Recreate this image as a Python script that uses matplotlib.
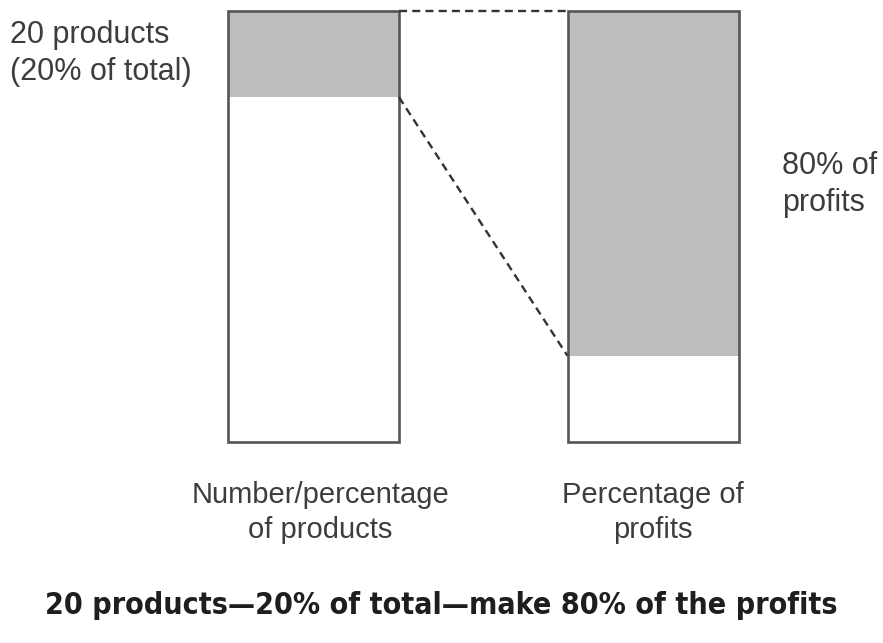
import matplotlib
matplotlib.use("Agg")
import matplotlib.pyplot as plt

categories = ["Number/percentage\nof products", "Percentage of\nprofits"]
totals = [100, 100]
highlight_share = [20, 80]
left_note = "20 products\n(20% of total)"
right_note = "80% of\nprofits"
title = "20 products\u201420% of total\u2014make 80% of the profits"

W, H, DPI = 883, 643, 100
fig = plt.figure(figsize=(W / DPI, H / DPI), dpi=DPI)
fig.patch.set_facecolor("white")

ax_bottom = 1 - 442 / H
ax_top = 1 - 11 / H
ax = fig.add_axes([0, ax_bottom, 1, ax_top - ax_bottom])
x_center0, spacing = 313.5, 339.5
ax.set_xlim((0 - x_center0) / spacing, (W - x_center0) / spacing)
ax.set_ylim(0, 100)
ax.axis("off")

bar_w = 171 / spacing
xs = list(range(len(categories)))
edge = "#555555"
grey = "#bdbdbd"

ax.bar(xs, totals, width=bar_w, color="white", edgecolor="none", zorder=2, clip_on=False)
bottoms = [t - s for t, s in zip(totals, highlight_share)]
ax.bar(xs, highlight_share, width=bar_w, bottom=bottoms, color=grey, edgecolor="none",
       zorder=3, clip_on=False)
ax.bar(xs, totals, width=bar_w, fill=False, edgecolor=edge, linewidth=1.9, zorder=4,
       clip_on=False)

x_r0 = xs[0] + bar_w / 2
x_l1 = xs[1] - bar_w / 2
dash = (0, (3.4, 2.2))
ax.plot([x_r0, x_l1], [totals[0], totals[1]], ls=dash, color="#333333", lw=1.7, zorder=5, clip_on=False)
ax.plot([x_r0, x_l1], [bottoms[0], bottoms[1]], ls=dash, color="#333333", lw=1.7, zorder=5, clip_on=False)

txt_color = "#3d3d3d"
for x, lab in zip([320, 653], categories):
    fig.text(x / W, 1 - 481 / H, lab, ha="center", va="top", fontsize=21,
             family="Liberation Sans", color=txt_color, linespacing=1.3)

fig.text(10 / W, 1 - 20 / H, left_note, ha="left", va="top", fontsize=22,
         family="Liberation Sans", color=txt_color, linespacing=1.3)
fig.text(782 / W, 1 - 151 / H, right_note, ha="left", va="top", fontsize=22,
         family="Liberation Sans", color=txt_color, linespacing=1.3)

fig.text(441 / W, 1 - 606 / H, title, ha="center", va="center", fontsize=21.8,
         family="DejaVu Sans", stretch="condensed", weight="bold", color="#1e1e1e")

fig.savefig("out.png", dpi=DPI, facecolor="white")
